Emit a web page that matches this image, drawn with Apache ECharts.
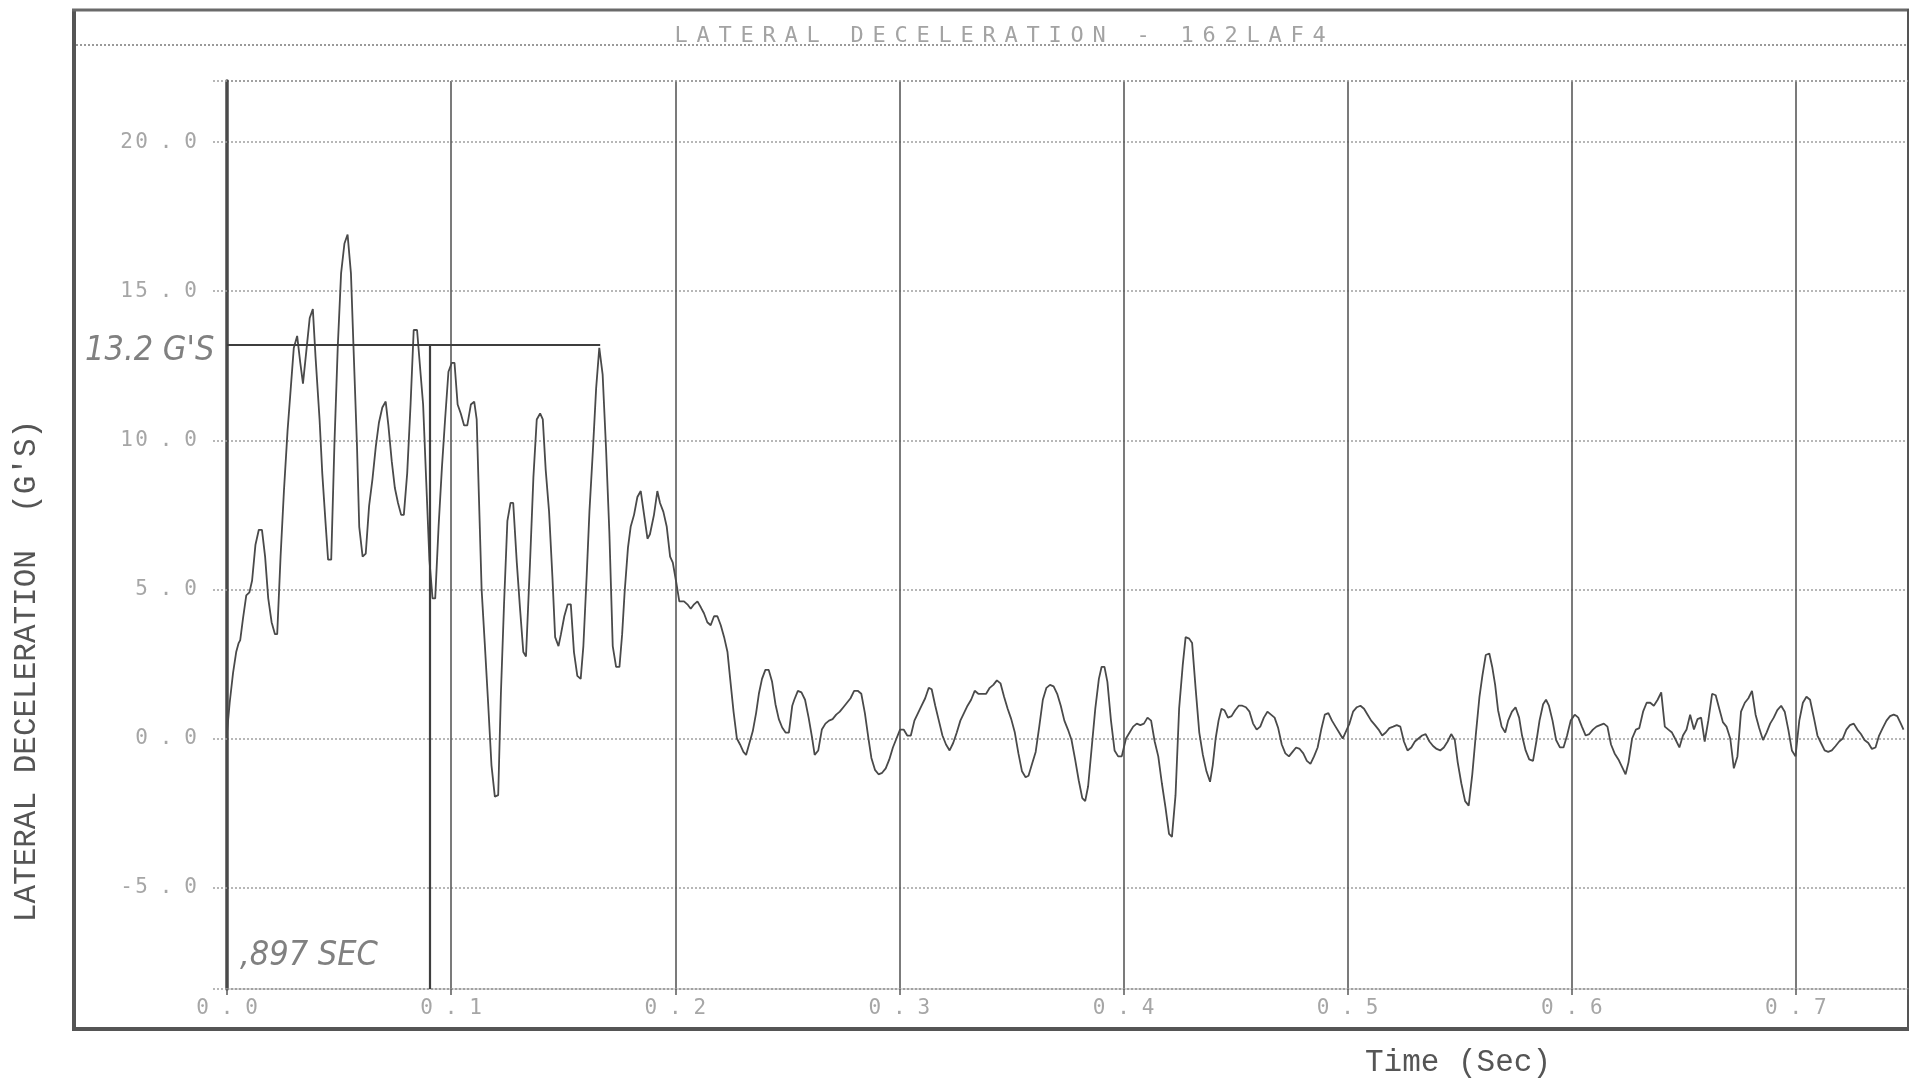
<!DOCTYPE html>
<html>
<head>
<meta charset="utf-8">
<title>Lateral Deceleration - 162LAF4</title>
<script src="https://cdn.jsdelivr.net/npm/echarts@6/dist/echarts.min.js"></script>
<style>
  html, body { margin: 0; padding: 0; background: #ffffff; }
  #chart { width: 1914px; height: 1082px; }
</style>
</head>
<body>
<div id="chart"></div>
<script>
// ---- Data -------------------------------------------------------------
// Crash pulse: lateral deceleration (G) against time (s), rows kept aligned.
const timeSec = [
  0.0000,0.0012,0.0027,0.0041,0.0052,0.0059,0.0071,0.0086,0.0100,0.0112,
  0.0127,0.0142,0.0156,0.0170,0.0184,0.0199,0.0214,0.0224,0.0239,0.0254,
  0.0270,0.0285,0.0298,0.0313,0.0327,0.0339,0.0354,0.0369,0.0383,0.0395,
  0.0413,0.0425,0.0440,0.0451,0.0465,0.0479,0.0494,0.0509,0.0524,0.0538,
  0.0553,0.0565,0.0580,0.0590,0.0605,0.0619,0.0634,0.0649,0.0664,0.0678,
  0.0693,0.0708,0.0720,0.0735,0.0749,0.0763,0.0777,0.0789,0.0804,0.0819,
  0.0833,0.0848,0.0863,0.0875,0.0889,0.0903,0.0917,0.0929,0.0944,0.0959,
  0.0973,0.0988,0.1003,0.1015,0.1029,0.1043,0.1058,0.1072,0.1088,0.1103,
  0.1114,0.1124,0.1136,0.1150,0.1165,0.1180,0.1195,0.1210,0.1222,0.1236,
  0.1251,0.1265,0.1277,
  0.1293,0.1307,0.1322,0.1334,0.1352,0.1367,0.1382,0.1397,0.1409,0.1422,
  0.1437,0.1452,0.1464,0.1479,0.1490,0.1505,0.1520,0.1534,0.1548,0.1563,
  0.1578,0.1590,0.1605,0.1617,0.1632,0.1647,0.1661,0.1676,0.1691,0.1706,
  0.1721,0.1736,0.1751,0.1763,0.1774,0.1789,0.1801,0.1816,0.1831,0.1846,
  0.1861,0.1876,0.1887,0.1905,0.1920,0.1932,0.1947,0.1962,0.1977,0.1989,
  0.2003,0.2018,0.2039,0.2054,0.2069,0.2084,0.2099,0.2114,0.2128,0.2143,
  0.2158,0.2173,0.2188,0.2203,0.2218,0.2233,0.2245,0.2260,0.2275,0.2289,
  0.2304,0.2316,0.2331,0.2346,0.2361,0.2373,0.2387,0.2402,0.2417,0.2432,
  0.2447,0.2462,0.2477,0.2492,0.2507,0.2522,
  0.2531,0.2547,0.2563,0.2579,0.2595,0.2611,0.2622,0.2638,0.2654,0.2670,
  0.2686,0.2702,0.2718,0.2734,0.2750,0.2766,0.2782,0.2798,0.2814,0.2830,
  0.2846,0.2862,0.2875,0.2891,0.2907,0.2923,0.2939,0.2955,0.2971,0.2987,
  0.3003,0.3019,0.3035,0.3051,0.3067,0.3083,0.3099,0.3115,0.3131,0.3144,
  0.3160,0.3176,0.3192,0.3208,0.3224,0.3240,0.3256,0.3272,0.3288,0.3304,
  0.3320,0.3336,0.3352,0.3371,0.3387,0.3403,0.3419,0.3435,0.3451,0.3467,
  0.3483,0.3499,0.3515,0.3531,0.3547,0.3563,0.3576,0.3592,0.3608,0.3624,
  0.3640,0.3656,0.3672,0.3688,0.3704,0.3720,0.3736,0.3752,0.3768,0.3784,
  0.3800,0.3816,0.3829,0.3842,0.3858,0.3874,0.3890,0.3902,0.3915,0.3928,
  0.3944,0.3960,0.3976,0.3992,0.4011,0.4027,0.4043,0.4059,0.4075,0.4091,
  0.4107,0.4123,0.4139,0.4155,0.4171,0.4187,0.4203,0.4216,0.4232,0.4248,
  0.4264,0.4277,0.4293,0.4306,0.4322,0.4338,0.4354,0.4370,0.4386,0.4398,
  0.4411,0.4424,0.4437,0.4450,0.4466,0.4482,0.4498,0.4514,0.4530,0.4546,
  0.4562,0.4578,0.4594,0.4610,0.4626,0.4642,0.4658,0.4674,0.4690,0.4706,
  0.4722,0.4738,0.4754,0.4770,0.4786,0.4802,0.4818,0.4834,0.4850,0.4866,
  0.4882,0.4898,0.4914,0.4930,0.4946,0.4962,0.4978,
  0.5008,0.5024,0.5041,0.5057,0.5073,0.5089,0.5105,0.5122,0.5138,0.5154,
  0.5170,0.5186,0.5203,0.5219,0.5235,0.5251,0.5267,0.5284,0.5300,0.5316,
  0.5332,0.5348,0.5365,0.5381,0.5397,0.5413,0.5429,0.5446,0.5462,0.5478,
  0.5491,0.5507,0.5524,0.5540,0.5556,0.5572,0.5588,0.5601,0.5616,0.5632,
  0.5645,0.5658,0.5671,0.5687,0.5703,0.5716,0.5733,0.5749,0.5765,0.5778,
  0.5794,0.5810,0.5827,0.5843,0.5856,0.5872,0.5885,0.5898,0.5914,0.5930,
  0.5947,0.5963,0.5979,0.5995,0.6013,0.6029,0.6045,0.6062,0.6078,0.6094,
  0.6110,0.6126,0.6143,0.6159,0.6175,0.6191,0.6208,0.6224,0.6240,0.6253,
  0.6269,0.6286,0.6301,0.6318,0.6334,0.6350,0.6366,0.6383,0.6399,0.6415,
  0.6431,0.6447,0.6464,0.6480,0.6496,0.6512,0.6528,0.6545,0.6561,0.6577,
  0.6593,0.6609,0.6626,0.6642,0.6658,0.6674,0.6690,0.6707,0.6723,0.6739,
  0.6755,0.6772,0.6788,0.6804,0.6820,0.6836,0.6853,0.6869,0.6885,0.6901,
  0.6917,0.6934,0.6950,0.6966,0.6982,0.6998,0.7015,0.7031,0.7047,0.7063,
  0.7080,0.7096,0.7112,0.7128,0.7144,0.7160,0.7177,0.7193,0.7209,0.7225,
  0.7241,0.7258,0.7274,0.7290,0.7306,0.7323,0.7339,0.7355,0.7371,0.7387,
  0.7404,0.7420,0.7436,0.7452,0.7468,0.7480
];

const latDecelG = [
  0.2,1.2,2.2,2.9,3.2,3.3,4.0,4.8,4.9,5.3,
  6.5,7.0,7.0,6.1,4.7,3.9,3.5,3.5,6.1,8.3,
  10.3,11.8,13.1,13.5,12.6,11.9,13.0,14.1,14.4,12.8,
  10.7,8.9,7.2,6.0,6.0,9.8,13.1,15.6,16.6,16.9,
  15.6,13.0,9.8,7.1,6.1,6.2,7.8,8.7,9.8,10.6,
  11.1,11.3,10.5,9.3,8.4,7.9,7.5,7.5,8.9,11.2,
  13.7,13.7,12.3,11.2,8.6,6.0,4.7,4.7,7.1,9.1,
  10.7,12.3,12.6,12.6,11.2,10.9,10.5,10.5,11.2,11.3,
  10.7,8.1,5.0,3.2,1.2,-0.9,-1.95,-1.9,1.5,4.5,
  7.3,7.9,7.9,
  5.9,4.4,2.9,2.75,5.9,8.75,10.7,10.9,10.7,9.0,
  7.6,5.4,3.4,3.1,3.5,4.1,4.5,4.5,2.9,2.1,
  2.0,3.1,5.5,7.6,9.6,11.75,13.1,12.2,9.75,6.9,
  3.1,2.4,2.4,3.5,4.9,6.4,7.1,7.5,8.1,8.3,
  7.5,6.7,6.85,7.5,8.3,7.9,7.6,7.1,6.1,5.9,
  5.3,4.6,4.6,4.5,4.35,4.5,4.6,4.4,4.2,3.9,
  3.8,4.1,4.1,3.8,3.4,2.9,2.0,0.9,0.0,-0.2,
  -0.45,-0.55,-0.15,0.25,0.87,1.5,2.0,2.3,2.3,1.9,
  1.15,0.65,0.37,0.2,0.2,1.1,
  1.3,1.6,1.55,1.3,0.7,0.0,-0.55,-0.4,0.3,0.5,
  0.6,0.65,0.8,0.9,1.05,1.2,1.35,1.6,1.6,1.5,
  0.85,0.0,-0.65,-1.05,-1.2,-1.15,-1.0,-0.7,-0.3,0.0,
  0.3,0.3,0.1,0.1,0.6,0.85,1.1,1.35,1.7,1.65,
  1.1,0.6,0.1,-0.2,-0.4,-0.15,0.2,0.6,0.85,1.1,
  1.3,1.6,1.5,1.5,1.5,1.7,1.8,1.95,1.85,1.4,
  1.0,0.65,0.2,-0.5,-1.1,-1.3,-1.25,-0.85,-0.45,0.4,
  1.3,1.7,1.8,1.75,1.5,1.1,0.6,0.3,-0.05,-0.7,
  -1.4,-2.0,-2.1,-1.6,-0.3,1.0,2.0,2.4,2.4,1.9,
  0.6,-0.4,-0.6,-0.6,0.0,0.2,0.4,0.5,0.45,0.5,
  0.7,0.6,-0.1,-0.6,-1.5,-2.3,-3.2,-3.3,-1.9,1.0,
  2.45,3.4,3.35,3.2,1.65,0.2,-0.55,-1.1,-1.45,-0.9,
  0.0,0.6,1.0,0.95,0.7,0.75,0.95,1.1,1.1,1.05,
  0.9,0.5,0.3,0.4,0.7,0.9,0.8,0.7,0.35,-0.2,
  -0.5,-0.6,-0.45,-0.3,-0.35,-0.5,-0.75,-0.85,-0.6,-0.3,
  0.3,0.8,0.85,0.6,0.4,0.2,0.0,
  0.5,0.9,1.05,1.1,1.0,0.8,0.6,0.45,0.3,0.1,
  0.2,0.35,0.4,0.45,0.4,-0.1,-0.4,-0.3,-0.1,0.0,
  0.1,0.15,-0.1,-0.25,-0.35,-0.4,-0.3,-0.1,0.15,-0.05,
  -0.8,-1.5,-2.1,-2.25,-1.2,0.15,1.4,2.1,2.8,2.85,
  2.4,1.8,0.95,0.4,0.2,0.6,0.9,1.05,0.7,0.1,
  -0.4,-0.7,-0.75,-0.05,0.6,1.15,1.3,1.1,0.6,-0.05,
  -0.3,-0.3,0.1,0.6,0.8,0.7,0.4,0.1,0.15,0.3,
  0.4,0.45,0.5,0.4,-0.2,-0.5,-0.7,-0.95,-1.2,-0.8,
  0.0,0.3,0.35,0.9,1.2,1.2,1.1,1.3,1.55,0.4,
  0.3,0.2,-0.05,-0.3,0.1,0.3,0.8,0.3,0.65,0.7,
  -0.1,0.6,1.5,1.45,1.0,0.55,0.4,0.0,-1.0,-0.6,
  0.9,1.2,1.35,1.6,0.8,0.35,-0.05,0.2,0.5,0.7,
  0.95,1.1,0.9,0.3,-0.4,-0.6,0.6,1.2,1.4,1.3,
  0.7,0.1,-0.15,-0.4,-0.45,-0.4,-0.25,-0.1,0.0,0.3,
  0.45,0.5,0.3,0.15,-0.05,-0.15,-0.35,-0.3,0.1,0.35,
  0.6,0.75,0.8,0.75,0.5,0.3
];

// Axis ticks
const xTicks = [0.0, 0.1, 0.2, 0.3, 0.4, 0.5, 0.6, 0.7];
const yTicks = [-5, 0, 5, 10, 15, 20];

// Texts
const chartTitle = 'LATERAL DECELERATION - 162LAF4';
const yAxisName = "LATERAL DECELERATION  (G'S)";
const xAxisName = 'Time (Sec)';

// Hand-drawn annotation: peak level box and pulse-duration marker
const peakLevelG = 13.2;
const peakLabel = "13.2 G'S";
const boxEndSec = 0.1665;
const markerSec = 0.0905;
const markerLabel = ',897 SEC';

// ---- Chart ------------------------------------------------------------
const X_MIN = 0, X_MAX = 0.75;
const Y_MIN = -8.4, Y_MAX = 22.05;

const DOT_FONT = '"DejaVu Sans Mono", monospace';
const TYPE_FONT = '"Liberation Mono", "DejaVu Sans Mono", monospace';
const HAND_FONT = '"Liberation Sans Narrow", "DejaVu Sans Condensed", "Liberation Sans", sans-serif';

// Wide-pitch plotter lettering: every character gets its own fixed cell.
function cells(str, style) {
  return str.split('').map(function (ch) { return '{' + style + '|' + ch + '}'; }).join('');
}
function tickText(v) {
  return v.toFixed(1).split('').map(function (ch) {
    return ch === '.' ? '{p|.}' : '{d|' + ch + '}';
  }).join('');
}
const tickRich = {
  d: { width: 15, align: 'center', fontFamily: DOT_FONT, fontSize: 21, fontWeight: 'normal', color: '#a6a6a6' },
  p: { width: 34, align: 'center', fontFamily: DOT_FONT, fontSize: 21, fontWeight: 'normal', color: '#a6a6a6' }
};

const seriesData = timeSec.map(function (t, i) { return [t, latDecelG[i]]; });

const chart = echarts.init(document.getElementById('chart'), null, { renderer: 'canvas' });

const option = {
  backgroundColor: '#ffffff',
  animation: false,
  title: {
    text: cells(chartTitle, 't'),
    left: 665,
    top: 20,
    textStyle: {
      fontWeight: 'normal',
      rich: { t: { width: 22, align: 'center', fontFamily: DOT_FONT, fontSize: 22, fontWeight: 'normal', color: '#a3a3a3' } }
    }
  },
  grid: { left: 227, right: 6, top: 81, bottom: 93, containLabel: false },
  xAxis: {
    type: 'value',
    min: X_MIN,
    max: X_MAX,
    interval: 0.1,
    axisLine: { show: true, onZero: false, lineStyle: { color: '#9a9a9a', width: 1.5, type: [2, 2] } },
    axisTick: { show: true, inside: false, length: 6, lineStyle: { color: '#5a5a5a', width: 1.5 } },
    axisLabel: {
      show: true,
      margin: 9,
      customValues: xTicks,
      formatter: function (v) { return tickText(v); },
      rich: tickRich
    },
    splitLine: { show: true, lineStyle: { color: '#5a5a5a', width: 1.6, type: 'solid' } }
  },
  yAxis: {
    type: 'value',
    min: Y_MIN,
    max: Y_MAX,
    splitNumber: 6,
    axisLine: { show: true, lineStyle: { color: '#4a4a4a', width: 3.5 } },
    axisTick: { show: true, inside: false, length: 15, lineStyle: { color: '#a0a0a0', width: 1.5, type: [2, 2] } },
    axisLabel: {
      show: true,
      margin: 29,
      customValues: yTicks,
      formatter: function (v) { return tickText(v); },
      rich: tickRich
    },
    splitLine: { show: true, lineStyle: { color: '#a0a0a0', width: 1.5, type: [2, 2] } }
  },
  series: [{
    type: 'line',
    data: seriesData,
    showSymbol: false,
    symbol: 'none',
    silent: true,
    z: 3,
    lineStyle: { color: '#4a4a4a', width: 1.8 },
    markLine: {
      silent: true,
      symbol: 'none',
      animation: false,
      label: { show: false },
      lineStyle: { color: '#3e3e3e', width: 2.2, type: 'solid' },
      data: [
        [{ coord: [X_MIN, peakLevelG] }, { coord: [boxEndSec, peakLevelG] }],
        [{ coord: [markerSec, peakLevelG] }, { coord: [markerSec, Y_MIN] }]
      ]
    }
  }]
};

chart.setOption(option);

// Frame, axis names and hand-written notes (positions taken from the laid-out grid)
const peakPx = chart.convertToPixel({ gridIndex: 0 }, [X_MIN, peakLevelG]);
const basePx = chart.convertToPixel({ gridIndex: 0 }, [X_MIN, Y_MIN]);
const topPx = chart.convertToPixel({ gridIndex: 0 }, [X_MAX, Y_MAX]);

chart.setOption({
  graphic: [
    { type: 'line', silent: true, shape: { x1: 74, y1: 9, x2: 74, y2: 1031 }, style: { stroke: '#555555', lineWidth: 4 } },
    { type: 'line', silent: true, shape: { x1: 72, y1: 10, x2: 1909, y2: 10 }, style: { stroke: '#6a6a6a', lineWidth: 3 } },
    { type: 'line', silent: true, shape: { x1: 72, y1: 1029, x2: 1909, y2: 1029 }, style: { stroke: '#555555', lineWidth: 4 } },
    { type: 'line', silent: true, shape: { x1: topPx[0], y1: 9, x2: topPx[0], y2: 1031 }, style: { stroke: '#555555', lineWidth: 2 } },
    { type: 'line', silent: true, shape: { x1: 76, y1: 45, x2: 1907, y2: 45 }, style: { stroke: '#9a9a9a', lineWidth: 2, lineDash: [2, 2] } },
    { type: 'line', silent: true, shape: { x1: peakPx[0], y1: topPx[1], x2: topPx[0], y2: topPx[1] }, style: { stroke: '#9a9a9a', lineWidth: 1.5, lineDash: [2, 2] } },
    {
      type: 'text', silent: true, x: 27, y: 671, rotation: Math.PI / 2,
      style: { text: yAxisName, font: '31px ' + TYPE_FONT, fill: '#555555', align: 'center', verticalAlign: 'middle' }
    },
    {
      type: 'text', silent: true, x: 1458, y: 1063,
      style: { text: xAxisName, font: '31px ' + TYPE_FONT, fill: '#555555', align: 'center', verticalAlign: 'middle' }
    },
    {
      type: 'text', silent: true, x: 85, y: peakPx[1] + 6,
      style: { text: peakLabel, font: 'italic 34px ' + HAND_FONT, fill: '#808080', align: 'left', verticalAlign: 'middle' }
    },
    {
      type: 'text', silent: true, x: basePx[0] + 13, y: basePx[1] - 33,
      style: { text: markerLabel, font: 'italic 34px ' + HAND_FONT, fill: '#808080', align: 'left', verticalAlign: 'middle' }
    }
  ]
});
</script>
</body>
</html>
